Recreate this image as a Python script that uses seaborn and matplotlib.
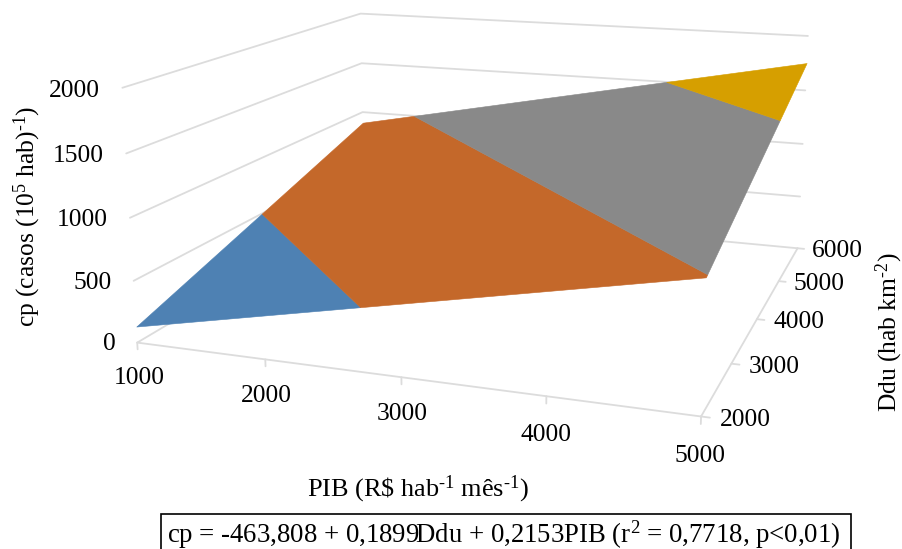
import matplotlib
matplotlib.use('Agg')
import matplotlib.pyplot as plt
from matplotlib.patches import Rectangle
from mpl_toolkits.mplot3d.art3d import Poly3DCollection
import seaborn as sns

# axis ticks
pib_ticks = [1000, 2000, 3000, 4000, 5000]
ddu_ticks = [2000, 3000, 4000, 5000, 6000]
cp_ticks = [0, 500, 1000, 1500, 2000]

# surface bands (PIB, Ddu, cp at each corner)
blue_pib = [1000, 1000, 2714]
blue_ddu = [2000, 3943, 2000]
blue_cp = [131, 500, 500]

orange_pib = [1000, 1000, 1506, 5000, 5000, 2714]
orange_ddu = [3943, 6000, 6000, 2042, 2000, 2000]
orange_cp = [500, 891, 1000, 1000, 992, 500]

gray_pib = [1506, 3828, 5000, 5000]
gray_ddu = [6000, 6000, 4675, 2042]
gray_cp = [1000, 1500, 1500, 1000]

yellow_pib = [3828, 5000, 5000]
yellow_ddu = [6000, 6000, 4675]
yellow_cp = [1500, 1752, 1500]

band_colors = sns.color_palette(['#4E81B3', '#C4682A', '#898989', '#D69F00'])
grid_color = '#DCDCDC'

sns.set_theme(style='white')
plt.rcParams['font.family'] = ['Liberation Serif', 'DejaVu Serif']
plt.rcParams['mathtext.fontset'] = 'custom'
plt.rcParams['mathtext.rm'] = 'Liberation Serif'
plt.rcParams['mathtext.default'] = 'regular'
plt.rcParams['text.color'] = 'black'

fig = plt.figure(figsize=(9.02, 5.49), dpi=100)
# camera fitted to the box in the picture, the axes run past the figure on purpose
ax = fig.add_axes([0.12639, -0.02392, 0.8309, 1.3652], projection='3d', computed_zorder=False)
ax.set_xlim(1000, 5000)
ax.set_ylim(2000, 6000)
ax.set_zlim(0, 2000)
ax.view_init(13.823, -70.7226, -0.0432)
ax.set_proj_type('persp', focal_length=0.3819)
ax.set_box_aspect((1, 0.9697, 0.4524))
ax.set_axis_off()

# gridlines on the two back walls
for z in cp_ticks:
    ax.plot([1000, 1000, 5000], [2000, 6000, 6000], [z, z, z], color=grid_color, lw=1.3, zorder=1)

# floor edges and tick marks
ax.plot([1000, 5000], [2000, 2000], [0, 0], color=grid_color, lw=1.3, zorder=1)
ax.plot([5000, 5000], [2000, 6000], [0, 0], color=grid_color, lw=1.3, zorder=1)
for x in pib_ticks:
    ax.plot([x, x], [2000, 2000], [0, -55], color=grid_color, lw=1.3, zorder=1)
for y in ddu_ticks:
    ax.plot([5000, 5055], [y, y], [0, 0], color=grid_color, lw=1.3, zorder=1)

# surface
bands = [(blue_pib, blue_ddu, blue_cp), (orange_pib, orange_ddu, orange_cp),
         (gray_pib, gray_ddu, gray_cp), (yellow_pib, yellow_ddu, yellow_cp)]
for band, color in zip(bands, band_colors):
    verts = [list(zip(*band))]
    ax.add_collection3d(Poly3DCollection(verts, facecolors=[color], edgecolors=[color],
                                         linewidths=0.4, shade=False, zorder=2))

# tick labels
for x in pib_ticks:
    ax.text(x, 2000, -290, str(x), ha='center', va='center', fontsize=18.4, color='black')
for y in ddu_ticks:
    ax.text(5120, y, -10, str(y), ha='left', va='center', fontsize=18.4, color='black')
for z in cp_ticks:
    ax.text(820, 2000, z - 38, str(z), ha='right', va='center', fontsize=18.4, color='black')

# axis titles and the equation box
fig.text(0.0305, 0.605, r'cp (casos (10$^{5}$ hab)$^{\text{-}1}$)', rotation=90, ha='center', va='center', fontsize=18.4)
fig.text(0.986, 0.395, r'Ddu (hab km$^{\text{-}2}$)', rotation=90, ha='center', va='center', fontsize=18.4)
fig.text(0.4635, 0.108, r'PIB (R\$ hab$^{\text{-}1}$ mês$^{\text{-}1}$)', ha='center', va='center', fontsize=18.9)
fig.add_artist(Rectangle((161 / 902, -0.01), 690 / 902, 35 / 549 + 0.01, transform=fig.transFigure,
                         facecolor='white', edgecolor='black', lw=1.2))
fig.text(0.5588, 0.026, r'cp = -463,808 + 0,1899Ddu + 0,2153PIB (r$^{2}$ = 0,7718, p<0,01)',
         ha='center', va='center', fontsize=19.3)

fig.savefig('out.png', dpi=100)
